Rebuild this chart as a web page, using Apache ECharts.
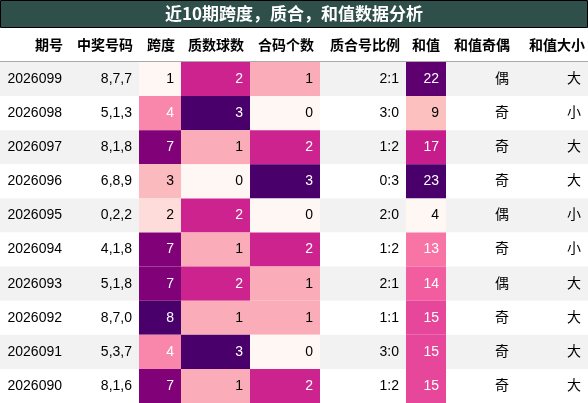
<!DOCTYPE html>
<html><head><meta charset="utf-8">
<script src="https://cdn.jsdelivr.net/npm/echarts@6/dist/echarts.min.js"></script>
<style>html,body{margin:0;padding:0;background:#fff}#c{width:588px;height:403px}</style>
</head><body><div id="c"></div>
<script>
const title = '近10期跨度，质合，和值数据分析';
const headers = ['期号','中奖号码','跨度','质数球数','合码个数','质合号比例','和值','和值奇偶','和值大小'];
const periods = ['2026099','2026098','2026097','2026096','2026095','2026094','2026093','2026092','2026091','2026090'];
const nums = ['8,7,7','5,1,3','8,1,8','6,8,9','0,2,2','4,1,8','5,1,8','8,7,0','5,3,7','8,1,6'];
const span = [1,4,7,3,2,7,7,8,4,7];
const prime = [2,3,1,0,2,1,2,1,3,1];
const composite = [1,0,2,3,0,2,1,1,0,2];
const ratio = ['2:1','3:0','1:2','0:3','2:0','1:2','2:1','1:1','3:0','1:2'];
const sums = [22,9,17,23,4,13,14,15,15,15];
const parity = ['偶','奇','奇','奇','偶','奇','偶','奇','奇','奇'];
const bigSmall = ['大','小','大','大','小','小','大','大','大','大'];

const edges = [0,69,139,181,250,320,406,446,516,588];
const cols = [periods,nums,span,prime,composite,ratio,sums,parity,bigSmall];
const colored = {2:true,3:true,4:true,6:true};
const RdPu = ['#fff7f3','#fde0dd','#fcc5c0','#fa9fb5','#f768a1','#dd3497','#ae017e','#7a0177','#49006a'];
function hex(c){return [1,3,5].map(i=>parseInt(c.substr(i,2),16));}
function scale(t){
  const p=t*(RdPu.length-1), i=Math.min(Math.floor(p),RdPu.length-2), f=p-i;
  const a=hex(RdPu[i]), b=hex(RdPu[i+1]);
  return 'rgb('+a.map((v,k)=>Math.round(v+(b[k]-v)*f)).join(',')+')';
}
const ranges = {};
for (const k in colored){const arr=cols[k];ranges[k]=[Math.min(...arr),Math.max(...arr)];}
const data=[];
for(let r=0;r<periods.length;r++)for(let c=0;c<cols.length;c++)data.push([c,r]);
const font='"Liberation Sans","Noto Sans CJK SC",sans-serif';
const chart=echarts.init(document.getElementById('c'),null,{renderer:'canvas'});
chart.setOption({
  animation:false,
  grid:{left:0,right:0,top:62,bottom:0},
  xAxis:{type:'value',min:0,max:588,show:false},
  yAxis:{type:'category',data:periods,inverse:true,show:false},
  graphic:[
    {type:'rect',shape:{x:0.5,y:0.5,width:587,height:27},style:{fill:'#2f4f4a',stroke:'#000',lineWidth:1}},
    {type:'text',x:294,y:14,style:{text:title,fill:'#fff',font:'bold 17px "Noto Sans CJK SC"',align:'center',verticalAlign:'middle'}},
    ...headers.map((h,i)=>({type:'text',x:edges[i+1]-(i===8?3:6),y:45,style:{text:h,fill:'#000',font:'bold 14px "Noto Sans CJK SC"',align:'right',verticalAlign:'middle'}})),
    {type:'line',shape:{x1:0,y1:62,x2:588,y2:62},style:{stroke:'#555',lineWidth:1}}
  ],
  series:[{
    type:'custom',data:data,
    renderItem:function(params,api){
      const c=api.value(0), r=api.value(1);
      const p0=api.coord([edges[c],r]), p1=api.coord([edges[c+1],r]);
      const h=api.size([0,1])[1];
      const y=p0[1]-h/2;
      let fill = r%2===0?'#f2f2f2':'#ffffff', tc='#000';
      const v=cols[c][r];
      if(colored[c]){const [mn,mx]=ranges[c];const t=(v-mn)/(mx-mn);fill=scale(t);if(t>0.4)tc='#fff';}
      return {type:'group',children:[
        {type:'rect',shape:{x:p0[0],y:y,width:p1[0]-p0[0],height:h},style:{fill:fill}},
        {type:'text',x:p1[0]-7,y:p0[1],style:{text:String(v),fill:tc,font:'14px '+font,align:'right',verticalAlign:'middle'}}
      ]};
    }
  }]
});
</script></body></html>
